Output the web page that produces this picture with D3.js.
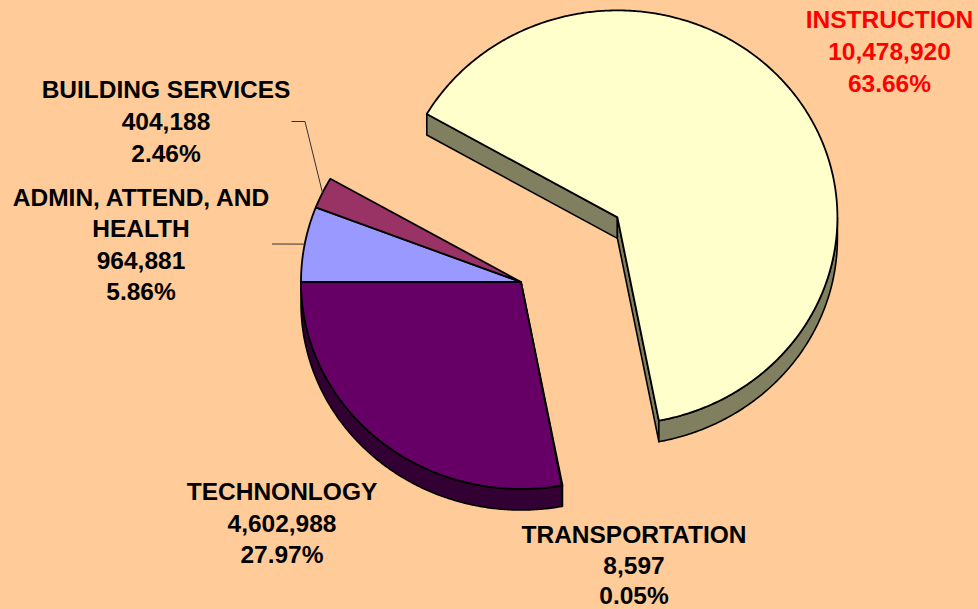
<!DOCTYPE html>
<html><head><meta charset="utf-8">
<script src="https://cdn.jsdelivr.net/npm/d3@7"></script>
<style>
html,body{margin:0;padding:0;background:#FFCC99;}
svg{display:block;}
text{font-family:"Liberation Sans",Arial,sans-serif;font-weight:bold;font-size:24.5px;}
</style></head>
<body>
<svg id="chart" width="978" height="609"></svg>
<script>
// ---- data (order as drawn clockwise starting at 9 o'clock) ----
const categories = ["ADMIN, ATTEND, AND\nHEALTH", "BUILDING SERVICES", "INSTRUCTION", "TRANSPORTATION", "TECHNONLOGY"];
const values = [964881, 404188, 10478920, 8597, 4602988];
const exploded = [false, false, true, false, false];
const topColors = ["#9999FF", "#993366", "#FFFFCC", "#CCFFFF", "#660066"];
const sideColors = ["#4D4D80", "#4D1A33", "#808060", "#668080", "#330033"];
const labelColors = ["#000000", "#000000", "#FF0000", "#000000", "#000000"];

// ---- layout ----
const W = 978, H = 609;
const cx = 521, cy = 282, rx = 220, ry = 207, depth = 21, explode = 0.538;
const labelPos = [
  {x: 141, y: 206, dy: 31.3},
  {x: 166, y: 98, dy: 32},
  {x: 889.5, y: 28, dy: 32},
  {x: 634, y: 543, dy: 30.5},
  {x: 282, y: 500, dy: 31.5}
];
const leaders = [
  {from: [272, 244], via: null},
  {from: [291.5, 121.5], via: [305, 121.5]},
  null, null, null
];

const svg = d3.select("#chart");
svg.append("rect").attr("width", W).attr("height", H).attr("fill", "#FFCC99");

const total = d3.sum(values);
const pie = d3.pie().sort(null).startAngle(1.5 * Math.PI).endAngle(3.5 * Math.PI);
const arcs = pie(values);

// projection of an angle (d3 convention: 0 at 12 o'clock, clockwise) on the tilted ellipse
const proj = (ox, oy, a, dz) => [ox + rx * Math.sin(a), oy - ry * Math.cos(a) + (dz || 0)];
const line = d3.line();

arcs.forEach((d, i) => {
  const mid = (d.startAngle + d.endAngle) / 2;
  const k = exploded[i] ? explode : 0;
  d.ox = cx + rx * k * Math.sin(mid);
  d.oy = cy - ry * k * Math.cos(mid);
  d.i = i;
});

function arcPoints(d, a0, a1, dz) {
  const n = Math.max(2, Math.ceil(Math.abs(a1 - a0) / (Math.PI / 360)));
  return d3.range(n + 1).map(j => proj(d.ox, d.oy, a0 + (a1 - a0) * j / n, dz));
}

const gSides = svg.append("g");
const gTops = svg.append("g");

arcs.forEach((d, i) => {
  const n = arcs.length;
  const prevEx = exploded[(i - 1 + n) % n], nextEx = exploded[(i + 1) % n];
  const self = exploded[i];
  // start radial face
  if ((self || prevEx) && Math.sin(d.startAngle) < 0) {
    const p = proj(d.ox, d.oy, d.startAngle, 0);
    const pts = [[d.ox, d.oy], p, [p[0], p[1] + depth], [d.ox, d.oy + depth]];
    gSides.append("path").attr("d", line(pts) + "Z").attr("fill", sideColors[i])
      .attr("stroke", "#000").attr("stroke-width", 1.6).attr("stroke-linejoin", "round");
  }
  // end radial face
  if ((self || nextEx) && Math.sin(d.endAngle) > 0) {
    const p = proj(d.ox, d.oy, d.endAngle, 0);
    const pts = [[d.ox, d.oy], p, [p[0], p[1] + depth], [d.ox, d.oy + depth]];
    gSides.append("path").attr("d", line(pts) + "Z").attr("fill", sideColors[i])
      .attr("stroke", "#000").attr("stroke-width", 1.6).attr("stroke-linejoin", "round");
  }
  // outer curved side (front half only)
  for (let s = -1; s <= 1; s++) {
    const v0 = 2.5 * Math.PI + s * 2 * Math.PI, v1 = 3.5 * Math.PI + s * 2 * Math.PI;
    const a0 = Math.max(d.startAngle, v0), a1 = Math.min(d.endAngle, v1);
    if (a1 > a0 + 1e-4) {
      const topPts = arcPoints(d, a0, a1, 0);
      const botPts = arcPoints(d, a1, a0, depth);
      gSides.append("path").attr("d", line(topPts.concat(botPts)) + "Z").attr("fill", sideColors[i])
        .attr("stroke", "#000").attr("stroke-width", 1.6).attr("stroke-linejoin", "round");
    }
  }
});

// top faces
arcs.forEach((d, i) => {
  const pts = [[d.ox, d.oy]].concat(arcPoints(d, d.startAngle, d.endAngle, 0));
  gTops.append("path").attr("d", line(pts) + "Z").attr("fill", topColors[i])
    .attr("stroke", "#000").attr("stroke-width", 1.8).attr("stroke-linejoin", "round");
});

// leader lines
arcs.forEach((d, i) => {
  const L = leaders[i];
  if (!L) return;
  const mid = (d.startAngle + d.endAngle) / 2;
  const end = proj(d.ox, d.oy, mid, 0);
  const pts = [L.from].concat(L.via ? [L.via] : []).concat([end]);
  svg.append("path").attr("d", line(pts)).attr("fill", "none")
    .attr("stroke", "#333").attr("stroke-width", 1);
});

// labels
const fmtVal = d3.format(",");
const fmtPct = d3.format(".2%");
arcs.forEach((d, i) => {
  const lines = categories[i].split("\n").concat([fmtVal(values[i]), fmtPct(values[i] / total)]);
  const lp = labelPos[i];
  const t = svg.append("text").attr("text-anchor", "middle").attr("fill", labelColors[i]);
  lines.forEach((s, j) => {
    t.append("tspan").attr("x", lp.x).attr("y", lp.y + j * lp.dy).text(s);
  });
});
</script>
</body></html>
